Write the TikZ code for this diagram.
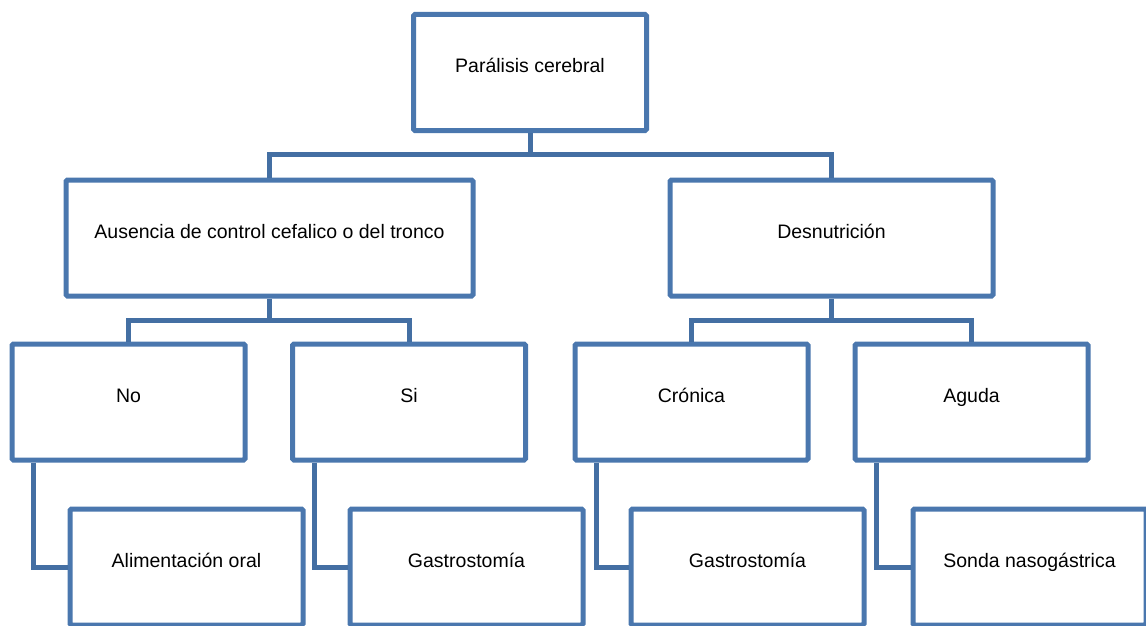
\documentclass[tikz,border=0pt]{standalone}
\usepackage{fontspec}
\setmainfont{Liberation Sans}
\definecolor{boxblue}{RGB}{74,119,174}
\definecolor{linkblue}{RGB}{68,111,163}
\begin{document}
\begin{tikzpicture}[x=1pt,y=-1pt,
  box/.style={draw=boxblue, line width=5pt, fill=white, rounded corners=1.5pt,
    minimum width=233pt, minimum height=116pt, inner sep=0pt,
    text height=10pt, text depth=10pt,
    font=\fontsize{19.5}{23}\selectfont},
  link/.style={draw=linkblue, line width=5pt}]
\useasboundingbox (0,0) rectangle (1146,626);
\begin{scope}
\clip (0,0) rectangle (1146,626);
\coordinate (j1) at (530,154);
\coordinate (j2) at (269.5,320);
\coordinate (j3) at (831.5,320);
% boxes
\node[box] (top) at (530,72.5) {Parálisis cerebral};
\node[box, minimum width=407pt] (aus) at (269.5,238) {Ausencia de control cefalico o del tronco};
\node[box, minimum width=323pt] (des) at (831.5,238) {Desnutrición};
\node[box] (no) at (128.5,402) {No};
\node[box] (si) at (409,402) {Si};
\node[box] (cro) at (691.5,402) {Crónica};
\node[box] (agu) at (971.5,402) {Aguda};
\node[box] (ali) at (186.5,567) {Alimentación oral};
\node[box] (ga1) at (466.5,567) {Gastrostomía};
\node[box] (ga2) at (747.5,567) {Gastrostomía};
\node[box] (son) at (1029.5,567) {Sonda nasogástrica};
% tree links
\draw[link] (top.south) -- (j1);
\draw[link] (j1) -| (aus.north);
\draw[link] (j1) -| (des.north);
\draw[link] (aus.south) -- (j2);
\draw[link] (j2) -| (no.north);
\draw[link] (j2) -| (si.north);
\draw[link] (des.south) -- (j3);
\draw[link] (j3) -| (cro.north);
\draw[link] (j3) -| (agu.north);
% elbow links
\draw[link] ([xshift=24pt]no.south west) |- (ali.west);
\draw[link] ([xshift=24pt]si.south west) |- (ga1.west);
\draw[link] ([xshift=24pt]cro.south west) |- (ga2.west);
\draw[link] ([xshift=24pt]agu.south west) |- (son.west);
\end{scope}
\end{tikzpicture}
\end{document}
